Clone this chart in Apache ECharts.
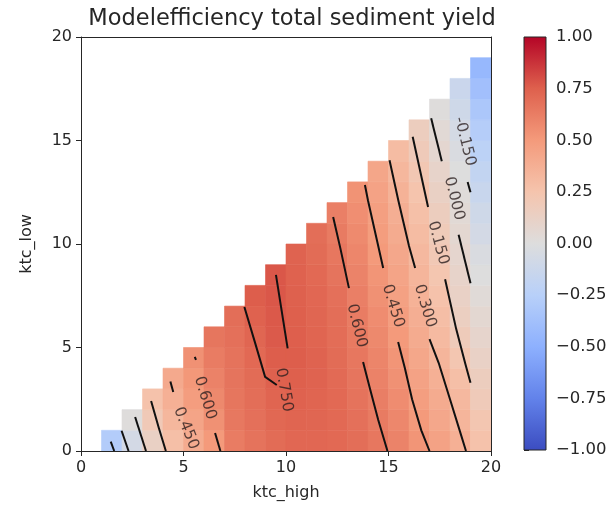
<!DOCTYPE html>
<html>
<head>
<meta charset="utf-8">
<title>Modelefficiency total sediment yield</title>
<script src="https://cdn.jsdelivr.net/npm/echarts@6/dist/echarts.min.js"></script>
<style>
  html, body { margin: 0; padding: 0; background: #fff; }
  #chart { width: 611px; height: 513px; }
</style>
</head>
<body>
<div id="chart"></div>
<script>
// ktc_high of each column (cell spans ktc_high .. ktc_high+1)
const ktcHigh = [1, 2, 3, 4, 5, 6, 7, 8, 9, 10, 11, 12, 13, 14, 15, 16, 17, 18, 19];

// model efficiency per column, from ktc_low = 0 upwards
const efficiency = [
  [-0.28],
  [-0.07, 0.01],
  [0.13, 0.20, 0.26],
  [0.28, 0.33, 0.37, 0.41],
  [0.40, 0.44, 0.48, 0.51, 0.54],
  [0.50, 0.54, 0.575, 0.605, 0.63, 0.655],
  [0.63, 0.645, 0.655, 0.665, 0.67, 0.68, 0.69],
  [0.67, 0.68, 0.69, 0.70, 0.71, 0.725, 0.74, 0.755],
  [0.70, 0.715, 0.73, 0.745, 0.755, 0.765, 0.77, 0.775, 0.775],
  [0.72, 0.73, 0.74, 0.75, 0.755, 0.752, 0.748, 0.745, 0.74, 0.735],
  [0.72, 0.725, 0.73, 0.735, 0.735, 0.73, 0.725, 0.72, 0.71, 0.70, 0.69],
  [0.71, 0.71, 0.71, 0.705, 0.70, 0.695, 0.69, 0.68, 0.665, 0.65, 0.635, 0.615],
  [0.69, 0.68, 0.67, 0.66, 0.65, 0.64, 0.63, 0.615, 0.60, 0.585, 0.57, 0.55, 0.53],
  [0.65, 0.635, 0.62, 0.605, 0.59, 0.575, 0.56, 0.54, 0.52, 0.50, 0.485, 0.47, 0.45, 0.43],
  [0.60, 0.58, 0.56, 0.54, 0.52, 0.50, 0.48, 0.46, 0.44, 0.42, 0.40, 0.38, 0.36, 0.33, 0.30],
  [0.52, 0.50, 0.475, 0.45, 0.425, 0.40, 0.38, 0.36, 0.34, 0.32, 0.30, 0.275, 0.25, 0.22, 0.19, 0.16],
  [0.45, 0.42, 0.40, 0.37, 0.34, 0.31, 0.285, 0.26, 0.235, 0.21, 0.185, 0.16, 0.13, 0.10, 0.07, 0.04, 0.01],
  [0.37, 0.34, 0.32, 0.28, 0.23, 0.18, 0.145, 0.12, 0.10, 0.08, 0.06, 0.04, 0.02, 0.0, -0.03, -0.06, -0.10, -0.13],
  [0.26, 0.23, 0.19, 0.16, 0.12, 0.09, 0.06, 0.03, 0.0, -0.03, -0.07, -0.10, -0.14, -0.18, -0.22, -0.27, -0.32, -0.38, -0.44]
];

// contour pieces [ktc_high, ktc_low], broken where the labels sit
const contourLines = [
  [[1.45, 0.45], [1.62, 0]],
  [[18.86, 13.0], [19.0, 12.5]],
  [[1.98, 0.98], [2.32, 0]],
  [[17.08, 16.08], [17.6, 14.0]],
  [[18.42, 10.45], [19.0, 8.1]],
  [[2.64, 1.64], [3.17, 0]],
  [[16.18, 15.18], [16.93, 11.79]],
  [[17.76, 8.3], [18.3, 5.9], [18.75, 4.2], [19.0, 3.3]],
  [[3.42, 2.42], [3.8, 1.1], [4.14, 0]],
  [[15.05, 14.05], [15.48, 12.1], [16.0, 9.9], [16.3, 8.84]],
  [[17.0, 5.4], [17.45, 4.25], [18.0, 2.5], [18.5, 0.9], [18.78, 0]],
  [[4.36, 3.36], [4.5, 2.85]],
  [[13.85, 12.85], [14.0, 12.1], [14.74, 8.84]],
  [[15.47, 5.27], [15.8, 4.0], [16.15, 2.5], [16.6, 1.0], [17.0, 0]],
  [[5.55, 4.55], [5.61, 4.4]],
  [[6.54, 0.87], [6.8, 0]],
  [[12.3, 11.3], [12.65, 9.8], [13.07, 7.87]],
  [[13.76, 4.3], [14.1, 3.0], [14.5, 1.5], [14.95, 0]],
  [[7.97, 6.96], [8.5, 5.2], [8.98, 3.58], [9.55, 3.19]],
  [[9.51, 8.51], [10.08, 4.96]]
];

// contour labels: [ktc_high, ktc_low, text, rotation]
const contourLabels = [
  [18.72, 14.95, '-0.150', -76],
  [18.2, 12.2, '0.000', -76],
  [17.42, 10.05, '0.150', -75],
  [16.78, 7.0, '0.300', -73],
  [5.12, 1.1, '0.450', -68],
  [15.22, 7.0, '0.450', -73],
  [6.05, 2.56, '0.600', -73],
  [13.45, 6.05, '0.600', -76],
  [9.9, 2.95, '0.750', -80]
];

const coolwarm = ['#3b4cc0', '#6282ea', '#8db0fe', '#b8d0f9', '#dddddd',
                  '#f5c4ad', '#f49a7b', '#de604d', '#b40426'];

const cells = [];
ktcHigh.forEach((h, i) => {
  efficiency[i].forEach((v, low) => cells.push([h, low, v]));
});

const chart = echarts.init(document.getElementById('chart'));
const font = 'DejaVu Sans';
const ink = '#262626';

const plainAxis = {
  axisLine: { show: true, onZero: false, lineStyle: { color: ink, width: 1 } },
  axisTick: { show: false },
  axisLabel: { show: false },
  splitLine: { show: false },
  z: 6
};

chart.setOption({
  animation: false,
  textStyle: { fontFamily: font },
  title: {
    text: 'Modelefficiency total sediment yield',
    left: 287,
    textAlign: 'center',
    top: 3,
    textStyle: { fontFamily: font, fontSize: 22.5, fontWeight: 'normal', color: ink }
  },
  grid: [
    { left: 81, top: 37, width: 410, height: 414 },
    { left: 524, top: 37, width: 22, height: 413 }
  ],
  xAxis: [
    {
      type: 'value', gridIndex: 0, min: 0, max: 20, interval: 5, position: 'bottom',
      name: 'ktc_high', nameLocation: 'middle', nameGap: 34,
      nameTextStyle: { fontSize: 16, color: ink, fontFamily: font },
      axisLine: { onZero: false, lineStyle: { color: ink, width: 1 } },
      axisTick: { show: true, length: 5, lineStyle: { color: ink } },
      axisLabel: { fontSize: 16, color: ink, margin: 9, fontFamily: font },
      splitLine: { show: false },
      z: 6
    },
    Object.assign({ type: 'value', gridIndex: 0, min: 0, max: 20, position: 'top' }, plainAxis),
    { type: 'value', gridIndex: 1, min: 0, max: 1, show: false }
  ],
  yAxis: [
    {
      type: 'value', gridIndex: 0, min: 0, max: 20, interval: 5, position: 'left',
      name: 'ktc_low', nameLocation: 'middle', nameGap: 46, nameRotate: 90,
      nameTextStyle: { fontSize: 16, color: ink, fontFamily: font },
      axisLine: { onZero: false, lineStyle: { color: ink, width: 1 } },
      axisTick: { show: true, length: 5, lineStyle: { color: ink } },
      axisLabel: { fontSize: 16, color: ink, margin: 9, fontFamily: font },
      splitLine: { show: false },
      z: 6
    },
    Object.assign({ type: 'value', gridIndex: 0, min: 0, max: 20, position: 'right' }, plainAxis),
    {
      type: 'value', gridIndex: 1, min: -1, max: 1, interval: 0.25, position: 'right',
      axisLine: { show: false },
      axisTick: { show: true, length: 5, lineStyle: { color: ink } },
      axisLabel: {
        fontSize: 16.5, color: ink, margin: 10, fontFamily: font,
        formatter: v => (v < 0 ? '\u2212' : '') + Math.abs(v).toFixed(2)
      },
      splitLine: { show: false }
    }
  ],
  visualMap: {
    show: false,
    type: 'continuous',
    min: -1,
    max: 1,
    dimension: 2,
    seriesIndex: 0,
    inRange: { color: coolwarm }
  },
  series: [
    {
      type: 'custom',
      xAxisIndex: 0,
      yAxisIndex: 0,
      data: cells,
      encode: { x: 0, y: 1 },
      renderItem: (params, api) => {
        const x = api.value(0);
        const y = api.value(1);
        const p0 = api.coord([x, y + 1]);
        const p1 = api.coord([x + 1, y]);
        const c = api.visual('color');
        return {
          type: 'rect',
          shape: { x: p0[0], y: p0[1], width: p1[0] - p0[0], height: p1[1] - p0[1] },
          style: { fill: c, stroke: c, lineWidth: 0.6 }
        };
      },
      z: 2
    },
    {
      type: 'lines',
      coordinateSystem: 'cartesian2d',
      xAxisIndex: 0,
      yAxisIndex: 0,
      polyline: true,
      silent: true,
      lineStyle: { color: '#111', width: 2, opacity: 1 },
      data: contourLines.map(pts => ({ coords: pts })),
      z: 3
    },
    {
      type: 'scatter',
      xAxisIndex: 0,
      yAxisIndex: 0,
      symbolSize: 0,
      silent: true,
      data: contourLabels.map(d => ({
        name: d[2],
        value: [d[0], d[1]],
        label: { rotate: d[3] }
      })),
      label: {
        show: true,
        position: 'inside',
        formatter: '{b}',
        fontSize: 15.5,
        color: '#2a1f1f',
        fontFamily: font
      },
      z: 4
    },
    {
      type: 'custom',
      xAxisIndex: 2,
      yAxisIndex: 2,
      data: [[0, -1, 1]],
      silent: true,
      renderItem: (params, api) => {
        const p0 = api.coord([0, api.value(2)]);
        const p1 = api.coord([1, api.value(1)]);
        const stops = coolwarm.map((c, k) => ({ offset: k / (coolwarm.length - 1), color: c }));
        return {
          type: 'rect',
          shape: { x: p0[0], y: p0[1], width: p1[0] - p0[0], height: p1[1] - p0[1] },
          style: {
            fill: new echarts.graphic.LinearGradient(0, 1, 0, 0, stops),
            stroke: ink,
            lineWidth: 1
          }
        };
      }
    }
  ]
});
</script>
</body>
</html>
